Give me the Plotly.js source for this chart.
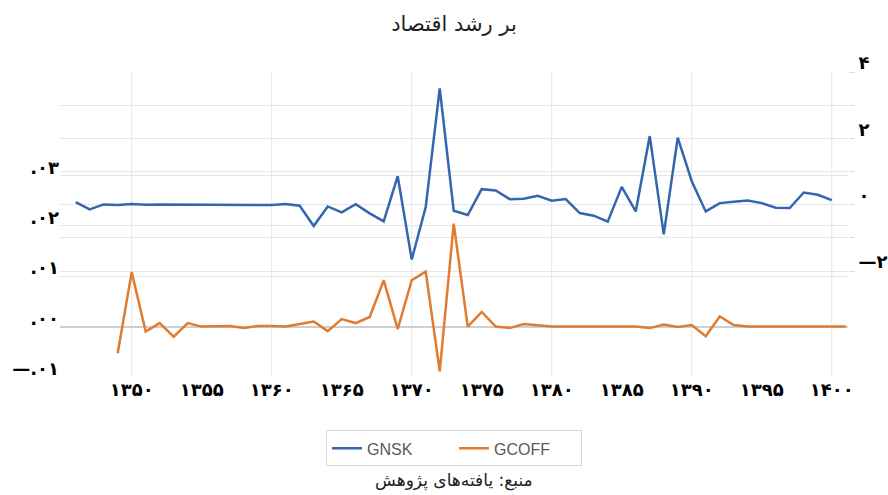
<!DOCTYPE html>
<html><head><meta charset="utf-8">
<script src="https://cdn.plot.ly/plotly-3.0.1.min.js"></script>
<style>html,body{margin:0;padding:0;background:#fff}</style>
</head><body><div id="chart" style="width:888px;height:495px"></div>
<script>
const titleText = "بر رشد اقتصاد";
const sourceText = "منبع: یافته‌های پژوهش";

const gnskYears = [1346,1347,1348,1349,1350,1351,1352,1353,1354,1355,1356,1357,1358,1359,1360,1361,1362,1363,1364,1365,1366,1367,1368,1369,1370,1371,1372,1373,1374,1375,1376,1377,1378,1379,1380,1381,1382,1383,1384,1385,1386,1387,1388,1389,1390,1391,1392,1393,1394,1395,1396,1397,1398,1399,1400];
const gnskValues = [0.08,-0.14,0.01,-0.01,0.02,0.00,0.01,0.01,0.01,0.01,0.00,0.00,0.00,-0.01,-0.01,0.02,-0.03,-0.64,-0.05,-0.23,0.02,-0.26,-0.50,0.86,-1.65,-0.07,3.51,-0.18,-0.31,0.47,0.43,0.17,0.18,0.27,0.12,0.17,-0.25,-0.33,-0.51,0.54,-0.20,2.07,-0.89,2.02,0.71,-0.20,0.05,0.09,0.13,0.05,-0.09,-0.10,0.37,0.30,0.14];

const gcoffYears = [1349,1350,1351,1352,1353,1354,1355,1356,1357,1358,1359,1360,1361,1362,1363,1364,1365,1366,1367,1368,1369,1370,1371,1372,1373,1374,1375,1376,1377,1378,1379,1380,1381,1382,1383,1384,1385,1386,1387,1388,1389,1390,1391,1392,1393,1394,1395,1396,1397,1398,1399,1400,1401];
const gcoffValues = [-0.0053,0.0108,-0.0010,0.0007,-0.0020,0.0007,0.0000,0.0000,0.0001,-0.0003,0.0001,0.0001,0.0000,0.0005,0.0010,-0.0009,0.0015,0.0007,0.0019,0.0092,-0.0005,0.0092,0.0109,-0.0089,0.0204,0.0000,0.0029,0.0000,-0.0003,0.0005,0.0002,0.0000,0.0000,0.0000,0.0000,0.0000,0.0000,0.0000,-0.0003,0.0004,-0.0001,0.0003,-0.0019,0.0020,0.0003,0.0000,0.0000,0.0000,0.0000,0.0000,0.0000,0.0000,0.0000];

const xTickVals = [1350,1355,1360,1365,1370,1375,1380,1385,1390,1395,1400];
const xTickText = ["۱۳۵۰","۱۳۵۵","۱۳۶۰","۱۳۶۵","۱۳۷۰","۱۳۷۵","۱۳۸۰","۱۳۸۵","۱۳۹۰","۱۳۹۵","۱۴۰۰"];
const xGridYears = [1350,1360,1370,1380,1390,1400];
const leftTickVals = [-0.01,0,0.01,0.02,0.03];
const leftTickText = ["—.۰۱",".۰۰",".۰۱",".۰۲",".۰۳"];
const rightTickVals = [-2,-1,0,1,2,3,4];
const rightTickText = ["—۲","","۰","","۲","","۴"];

const gridColor = "#e6e6e6";
const tickFont = {family: "DejaVu Sans", size: 18, color: "#000", weight: 700};

const traces = [
  {x: gnskYears, y: gnskValues, name: "GNSK", type: "scatter", mode: "lines",
   yaxis: "y2", line: {color: "#3466b0", width: 2.5}},
  {x: gcoffYears, y: gcoffValues, name: "GCOFF", type: "scatter", mode: "lines",
   yaxis: "y", line: {color: "#e07b2f", width: 2.5}}
];

const shapes = xGridYears.map(v => ({type: "line", xref: "x", yref: "paper", x0: v, x1: v, y0: 0, y1: 1,
  line: {color: gridColor, width: 1}, layer: "below"}));

const layout = {
  width: 888, height: 495,
  margin: {l: 60, r: 40, t: 72, b: 118},
  paper_bgcolor: "#fff", plot_bgcolor: "#fff",
  title: {text: titleText, x: 0.5, xref: "paper", y: 0.952, yanchor: "middle",
          font: {family: "DejaVu Sans", size: 21, color: "#222"}},
  showlegend: true,
  legend: {orientation: "h", x: 0.5, xanchor: "center", y: -0.175, yanchor: "top",
           bordercolor: "#d9d9d9", borderwidth: 1, bgcolor: "#fff", entrywidth: 82,
           font: {family: "Liberation Sans", size: 16, color: "#595959"}},
  xaxis: {range: [1344.88, 1401.16], tickvals: xTickVals, ticktext: xTickText,
          showgrid: false, zeroline: false, showline: false, ticks: "",
          tickfont: tickFont},
  yaxis: {range: [-0.01, 0.0505], tickvals: leftTickVals, ticktext: leftTickText,
          showgrid: true, gridcolor: gridColor, zeroline: true, zerolinecolor: "#cfcfcf", zerolinewidth: 1.5,
          showline: false, ticks: "", tickfont: tickFont, ticklabelshift: -8},
  yaxis2: {range: [-5.19, 4.001], overlaying: "y", side: "right", tickvals: rightTickVals, ticktext: rightTickText,
           showgrid: true, gridcolor: gridColor, zeroline: false, showline: false,
           ticks: "outside", ticklen: 6, tickcolor: "#dcdcdc", tickfont: tickFont, ticklabelshift: -9},
  shapes: shapes,
  annotations: [{text: sourceText, xref: "paper", yref: "paper", x: 0.5, y: -0.34, xanchor: "center", yanchor: "middle",
                 showarrow: false, font: {family: "DejaVu Sans", size: 17, color: "#222"}}]
};

Plotly.newPlot("chart", traces, layout, {displayModeBar: false, responsive: false});
</script></body></html>
